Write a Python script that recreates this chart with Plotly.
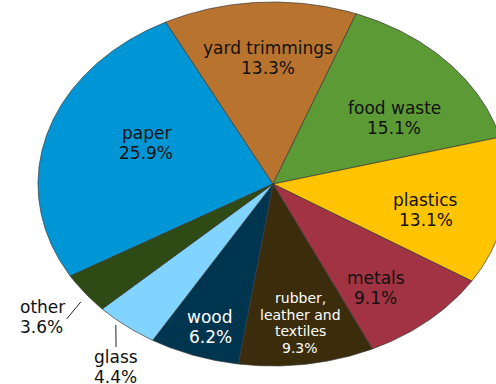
import numpy as np
import plotly.graph_objects as go

# Municipal solid waste composition (share of total, %)
materials = ["paper", "yard trimmings", "food waste", "plastics", "metals",
             "rubber, leather and textiles", "wood", "glass", "other"]
shares = [25.9, 13.3, 15.1, 13.1, 9.1, 9.3, 6.2, 4.4, 3.6]
label_lines = [["paper"], ["yard trimmings"], ["food waste"], ["plastics"], ["metals"],
               ["rubber,", "leather and", "textiles"], ["wood"], ["glass"], ["other"]]
colors = ["#0096D6", "#B8732F", "#5B9A35", "#FFC400", "#A13342",
          "#3B2D0B", "#003550", "#80D4FF", "#2E4A15"]
text_colors = ["#111111", "#111111", "#111111", "#111111", "#111111",
               "#FFFFFF", "#FFFFFF", "#111111", "#111111"]

# Geometry of the (elliptical) pie in pixel units
W, H = 496, 384
CX, CY, RX, RY = 273, 184, 235, 182
START = -120.4  # degrees, clockwise from 12 o'clock

# label placement: (radius fraction, angle nudge in degrees, line step px, font px)
label_place = [(0.585, 6.4, 20, 17), (0.692, 1.6, 20, 17), (0.63, 7.0, 20, 17),
               (0.667, 3.9, 20, 17), (0.72, 3.9, 20, 17), (0.772, -0.3, 16.5, 14),
               (0.83, -0.8, 20, 17), (1.207, -5.1, 20, 17), (1.22, 0.0, 20, 17)]
outside = {"glass": ((1.023, 2.1), (1.117, -2.0), "center"),
           "other": ((1.043, -1.5), (1.149, -3.3), "left")}

FONT = "DejaVu Sans, Arial, sans-serif"


def pt(theta_deg, r=1.0):
    t = np.radians(theta_deg)
    return CX + r * RX * np.sin(t), CY - r * RY * np.cos(t)


fig = go.Figure()
total = float(sum(shares))
angle = START
mids = []
for name, val, col in zip(materials, shares, colors):
    span = 360.0 * val / total
    n = max(int(span * 2), 4)
    th = np.linspace(angle, angle + span, n)
    ax, ay = pt(th)
    xs = np.concatenate([[CX], ax, [CX]])
    ys = np.concatenate([[CY], ay, [CY]])
    fig.add_trace(go.Scatter(
        x=xs, y=ys, mode="lines", fill="toself", fillcolor=col,
        line=dict(color="#3a3a3a", width=0.7), name=name,
        hoverinfo="name", showlegend=False))
    mids.append(angle + span / 2)
    angle += span

annotations = []
for i, (name, val) in enumerate(zip(materials, shares)):
    r, d, step, fs = label_place[i]
    lx, ly = pt(mids[i] + d, r)
    lines = label_lines[i] + [f"{val:.1f}%"]
    anchor = "center"
    if name in outside:
        (r0, d0), (r1, d1), anchor = outside[name]
        x0, y0 = pt(mids[i] + d0, r0)
        x1, y1 = pt(mids[i] + d1, r1)
        fig.add_trace(go.Scatter(x=[x0, x1], y=[y0, y1], mode="lines",
                                 line=dict(color="#222222", width=1),
                                 hoverinfo="skip", showlegend=False))
        if anchor == "left":
            lx -= 25
    top = ly - step * (len(lines) - 1) / 2
    for k, line in enumerate(lines):
        annotations.append(dict(
            x=lx, y=top + k * step, xref="x", yref="y", text=line,
            showarrow=False, xanchor=anchor, yanchor="middle", align=anchor,
            borderpad=0,
            font=dict(family=FONT, size=fs, color=text_colors[i])))

fig.update_layout(
    width=W, height=H, margin=dict(l=0, r=0, t=0, b=0),
    paper_bgcolor="white", plot_bgcolor="white",
    xaxis=dict(range=[0, W], visible=False, fixedrange=True),
    yaxis=dict(range=[H, 0], visible=False, fixedrange=True),
    annotations=annotations, showlegend=False)

fig.write_html("out.html")
